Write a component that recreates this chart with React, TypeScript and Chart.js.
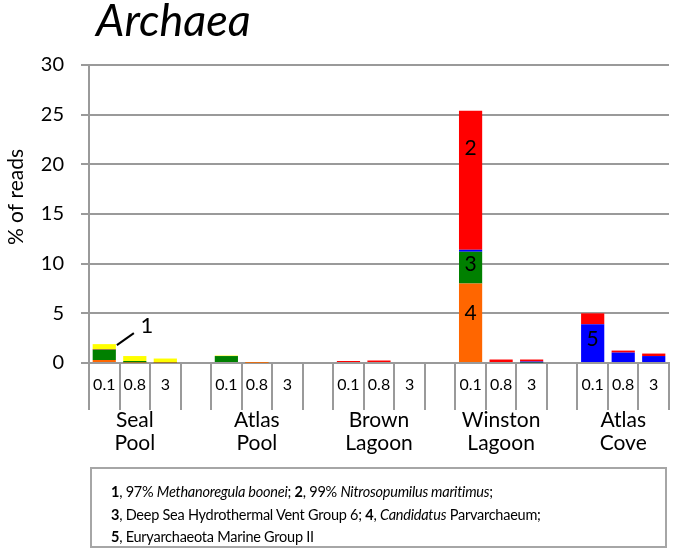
import React, { useEffect, useRef } from "react";
import { Chart, registerables } from "chart.js";

Chart.register(...registerables);

// ---- data ----
const sizeLabels = ["0.1", "0.8", "3", "", "0.1", "0.8", "3", "", "0.1", "0.8", "3", "", "0.1", "0.8", "3", "", "0.1", "0.8", "3"];
const siteLabels: (string | string[])[] = [
  "", ["Seal", "Pool"], "", "",
  "", ["Atlas", "Pool"], "", "",
  "", ["Brown", "Lagoon"], "", "",
  "", ["Winston", "Lagoon"], "", "",
  "", ["Atlas", "Cove"], "",
];

// 4, Candidatus Parvarchaeum
const parvarchaeum = [0.3, 0.05, 0.05, null, 0.1, 0.02, 0, null, 0, 0, 0, null, 8.0, 0, 0, null, 0, 0, 0];
// 3, Deep Sea Hydrothermal Vent Group 6
const dhvg6 = [1.05, 0.15, 0.05, null, 0.6, 0.03, 0, null, 0, 0, 0, null, 3.2, 0, 0.05, null, 0, 0, 0];
// 5, Euryarchaeota Marine Group II
const marineGroupII = [0, 0, 0, null, 0, 0, 0, null, 0, 0, 0, null, 0.2, 0.1, 0.1, null, 3.9, 1.05, 0.7];
// 2, 99% Nitrosopumilus maritimus
const nitrosopumilus = [0.05, 0, 0, null, 0, 0, 0, null, 0.2, 0.25, 0, null, 14.0, 0.25, 0.2, null, 1.1, 0.2, 0.25];
// 1, 97% Methanoregula boonei
const methanoregula = [0.5, 0.5, 0.35, null, 0.05, 0, 0, null, 0, 0, 0, null, 0, 0, 0, null, 0, 0, 0];

const yTicks = [0, 5, 10, 15, 20, 25, 30];

// in-bar labels: [text, category index, value]
const barNotes: [string, number, number][] = [
  ["2", 12, 21.6],
  ["3", 12, 9.9],
  ["4", 12, 5.0],
  ["5", 16, 2.4],
];

const FONT = "Lato, 'Open Sans', sans-serif";
const GRID = "#9a9a9a";

const notesPlugin = {
  id: "notes",
  afterDatasetsDraw(chart: any) {
    const { ctx, scales } = chart;
    const x = scales.x;
    const y = scales.y;
    ctx.save();
    ctx.fillStyle = "#000";
    ctx.font = `21px ${FONT}`;
    ctx.textAlign = "center";
    ctx.textBaseline = "middle";
    for (const [t, i, v] of barNotes) {
      ctx.fillText(t, x.getPixelForValue(i), y.getPixelForValue(v));
    }
    // callout "1" for Seal Pool 0.1
    const idx = 0;
    const total = [parvarchaeum, dhvg6, marineGroupII, nitrosopumilus, methanoregula]
      .reduce((s, a) => s + ((a[idx] as number) || 0), 0);
    const bar = chart.getDatasetMeta(4).data[idx];
    const x0 = x.getPixelForValue(idx) + bar.width / 2;
    const y0 = y.getPixelForValue(total);
    ctx.strokeStyle = "#000";
    ctx.lineWidth = 2;
    ctx.beginPath();
    ctx.moveTo(x0 + 1, y0 + 1);
    ctx.lineTo(x0 + 18, y0 - 11);
    ctx.stroke();
    ctx.font = `22px ${FONT}`;
    ctx.fillText("1", x0 + 31, y0 - 18);
    // y axis title
    ctx.translate(16, 197);
    ctx.rotate(-Math.PI / 2);
    ctx.font = `21px ${FONT}`;
    ctx.fillText("% of reads", 0, 0);
    ctx.restore();
  },
};

export default function App() {
  const ref = useRef<HTMLCanvasElement>(null);
  useEffect(() => {
    if (!ref.current) return;
    const mk = (label: string, data: (number | null)[], color: string) => ({
      label,
      data,
      backgroundColor: color,
      borderWidth: 0,
      barPercentage: 0.76,
      categoryPercentage: 1,
      xAxisID: "x",
    });
    const chart = new Chart(ref.current, {
      type: "bar",
      data: {
        labels: sizeLabels,
        datasets: [
          mk("Candidatus Parvarchaeum", parvarchaeum, "#FF6600"),
          mk("Deep Sea Hydrothermal Vent Group 6", dhvg6, "#008000"),
          mk("Euryarchaeota Marine Group II", marineGroupII, "#0000FF"),
          mk("99% Nitrosopumilus maritimus", nitrosopumilus, "#FF0000"),
          mk("97% Methanoregula boonei", methanoregula, "#FFFF00"),
        ],
      },
      options: {
        animation: false,
        responsive: false,
        layout: { padding: { left: 0, right: 6, top: 65, bottom: 0 } },
        plugins: {
          legend: { display: false },
          tooltip: { enabled: false },
          title: { display: false },
        },
        scales: {
          x: {
            type: "category",
            stacked: true,
            offset: true,
            weight: 0,
            grid: {
              display: true,
              drawOnChartArea: false,
              drawTicks: true,
              tickLength: 47,
              offset: true,
              color: GRID,
              lineWidth: 2,
            },
            border: { display: true, color: GRID, width: 2 },
            ticks: {
              color: "#000",
              font: { family: FONT, size: 16 },
              padding: -35,
              maxRotation: 0,
              autoSkip: false,
            },
            afterFit: (s: any) => { s.height = 40; },
          },
          x2: {
            type: "category",
            position: "bottom",
            labels: siteLabels as any,
            offset: true,
            weight: 1,
            grid: { display: false, drawTicks: false },
            border: { display: false },
            ticks: {
              color: "#000",
              font: { family: FONT, size: 21, lineHeight: 1.1 },
              padding: 6,
              maxRotation: 0,
              autoSkip: false,
            },
            afterFit: (s: any) => { s.height = 157; },
          },
          y: {
            stacked: true,
            min: 0,
            max: 30,
            afterBuildTicks: (s: any) => { s.ticks = yTicks.map((v) => ({ value: v })); },
            grid: { color: GRID, lineWidth: 2, tickLength: 8, drawTicks: true },
            border: { display: true, color: GRID, width: 2 },
            ticks: {
              color: "#000",
              font: { family: FONT, size: 20 },
              padding: 17,
            },
            afterFit: (s: any) => { s.width = 89; },
          },
        },
      },
      plugins: [notesPlugin],
    } as any);
    return () => chart.destroy();
  }, []);

  return (
    <div style={{ position: "fixed", left: 0, top: 0, width: 675, height: 560, background: "#fff", fontFamily: FONT }}>
      <canvas ref={ref} width={675} height={560} style={{ position: "absolute", left: 0, top: 0 }} />
      <div style={{ position: "absolute", left: 96, top: -3, fontSize: 45, fontStyle: "italic", lineHeight: "44px", color: "#000" }}>
        Archaea
      </div>
      <div
        style={{
          position: "absolute",
          left: 90,
          top: 467,
          width: 577,
          height: 81,
          border: "2px solid #a6a6a6",
          fontSize: 14.5,
          letterSpacing: "-0.25px",
          lineHeight: "22.5px",
          color: "#000",
          paddingTop: 12,
          paddingLeft: 19,
          boxSizing: "border-box",
        }}
      >
        <div><b>1</b>, 97% <i>Methanoregula boonei</i>; <b>2</b>, 99% <i>Nitrosopumilus maritimus</i>;</div>
        <div><b>3</b>, Deep Sea Hydrothermal Vent Group 6; <b>4</b>, <i>Candidatus</i> Parvarchaeum;</div>
        <div><b>5</b>, Euryarchaeota Marine Group II</div>
      </div>
    </div>
  );
}
